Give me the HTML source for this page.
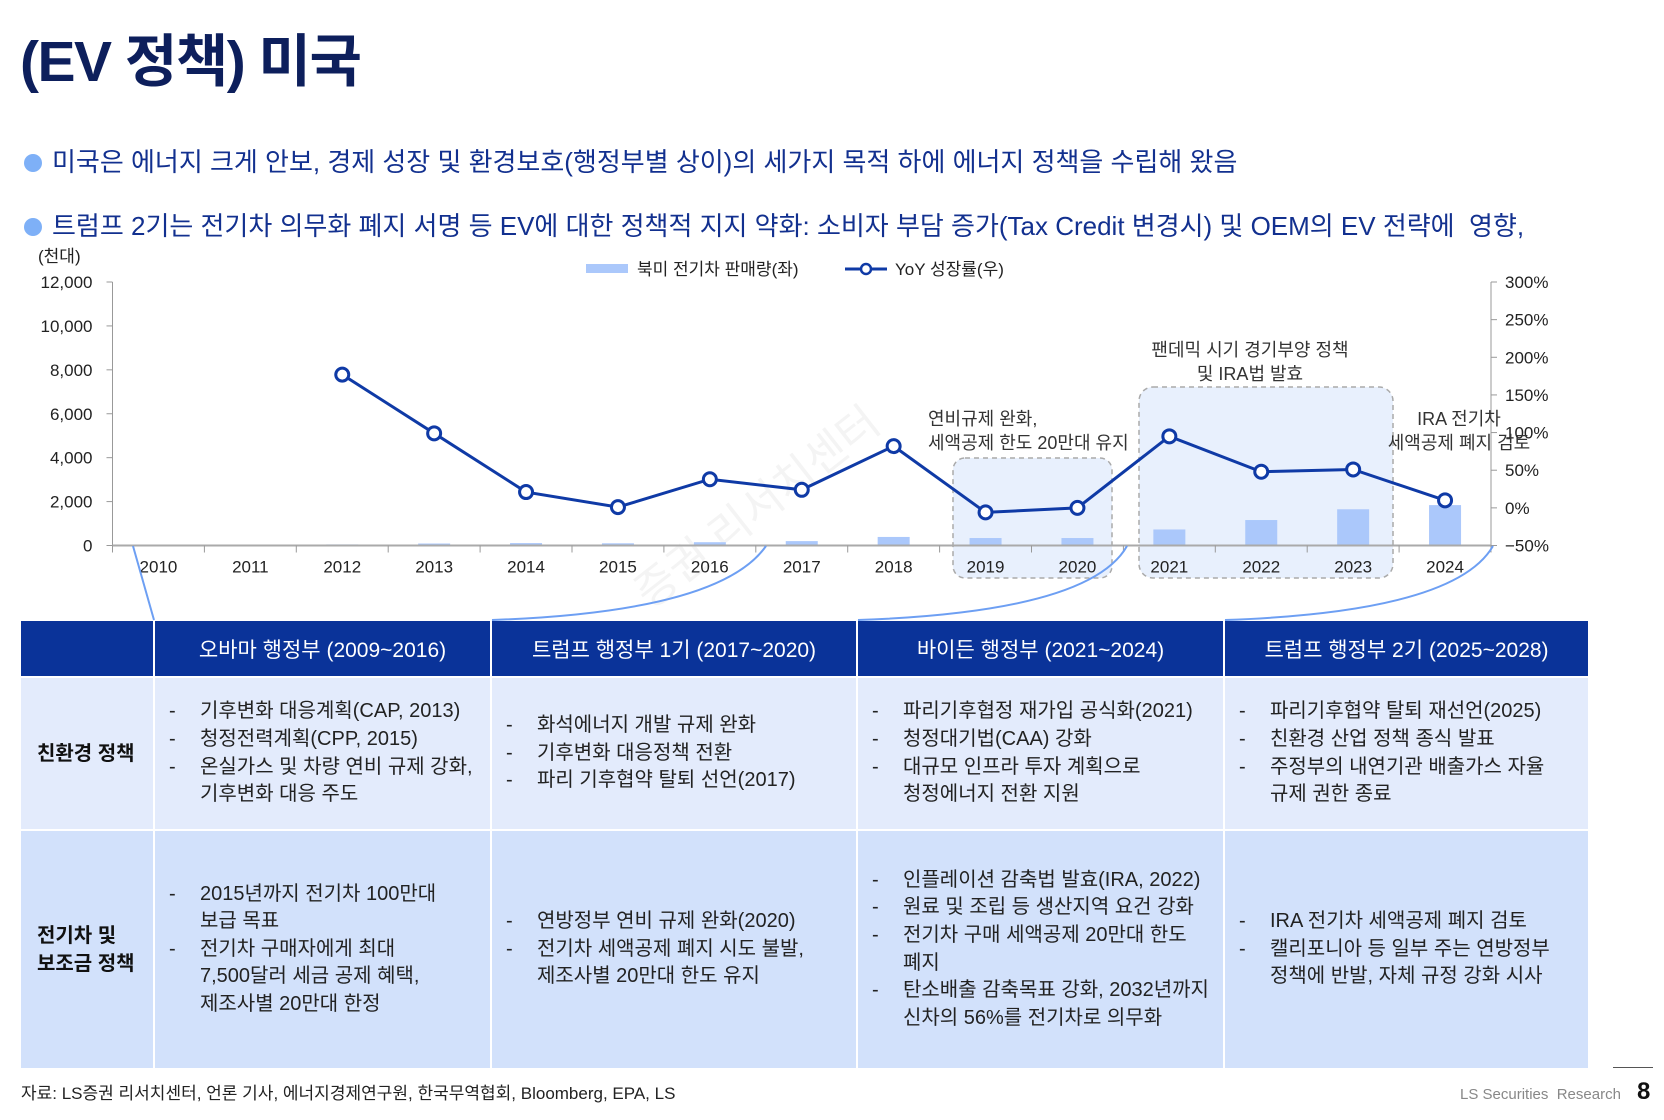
<!DOCTYPE html>
<html><head><meta charset="utf-8">
<style>
*{margin:0;padding:0;box-sizing:border-box}
body{width:1664px;height:1120px;background:#fff;position:relative;overflow:hidden;font-family:"Liberation Sans","Noto Sans CJK KR",sans-serif;color:#222}
.abs{position:absolute;white-space:nowrap}
.title{left:20px;top:16px;font-size:57px;font-weight:bold;color:#0d1f5c;letter-spacing:-1.5px}
.bullet{left:24px;font-size:26px;color:#12308f;letter-spacing:0px}
.bullet::before{content:"";display:inline-block;width:18px;height:18px;border-radius:50%;background:#7eb0f7;margin-right:10px;vertical-align:-1px}
.th{position:absolute;top:621px;height:55px;background:#0a3399;color:#fff;font-size:21px;display:flex;align-items:center;justify-content:center}
.cell{position:absolute;display:flex;flex-direction:column;justify-content:center;font-size:20px;line-height:27.6px;color:#222}
.cell div{padding-left:45px;position:relative;white-space:nowrap}
.cell div.d::before{content:"-";position:absolute;left:14px}
.lbl{position:absolute;display:flex;align-items:center;padding-left:16px;font-size:20px;font-weight:bold;line-height:28px;color:#111}
</style></head><body>
<div class="abs title">(EV 정책) 미국</div>
<div class="abs bullet" style="top:142px">미국은 에너지 크게 안보, 경제 성장 및 환경보호(행정부별 상이)의 세가지 목적 하에 에너지 정책을 수립해 왔음</div>
<div class="abs bullet" style="top:206px">트럼프 2기는 전기차 의무화 폐지 서명 등 EV에 대한 정책적 지지 약화: 소비자 부담 증가(Tax Credit 변경시) 및 OEM의 EV 전략에&nbsp; 영향,</div>

<svg id="chart" class="abs" style="left:0;top:0" width="1664" height="640"></svg>

<div class="th" style="left:21px;width:132px"></div>
<div class="th" style="left:155px;width:335px">오바마 행정부 (2009~2016)</div>
<div class="th" style="left:492px;width:364px">트럼프 행정부 1기 (2017~2020)</div>
<div class="th" style="left:858px;width:365px">바이든 행정부 (2021~2024)</div>
<div class="th" style="left:1225px;width:363px">트럼프 행정부 2기 (2025~2028)</div>

<div class="lbl" style="left:21px;top:678px;width:132px;height:151px;background:#e3ebfc">친환경 정책</div>
<div class="cell" style="left:155px;top:678px;width:335px;height:151px;background:#e3ebfc"><div class="d">기후변화 대응계획(CAP, 2013)</div><div class="d">청정전력계획(CPP, 2015)</div><div class="d">온실가스 및 차량 연비 규제 강화,</div><div>기후변화 대응 주도</div></div>
<div class="cell" style="left:492px;top:678px;width:364px;height:151px;background:#e3ebfc"><div class="d">화석에너지 개발 규제 완화</div><div class="d">기후변화 대응정책 전환</div><div class="d">파리 기후협약 탈퇴 선언(2017)</div></div>
<div class="cell" style="left:858px;top:678px;width:365px;height:151px;background:#e3ebfc"><div class="d">파리기후협정 재가입 공식화(2021)</div><div class="d">청정대기법(CAA) 강화</div><div class="d">대규모 인프라 투자 계획으로</div><div>청정에너지 전환 지원</div></div>
<div class="cell" style="left:1225px;top:678px;width:363px;height:151px;background:#e3ebfc"><div class="d">파리기후협약 탈퇴 재선언(2025)</div><div class="d">친환경 산업 정책 종식 발표</div><div class="d">주정부의 내연기관 배출가스 자율</div><div>규제 권한 종료</div></div>

<div class="lbl" style="left:21px;top:831px;width:132px;height:237px;background:#d2e1fb">전기차 및<br>보조금 정책</div>
<div class="cell" style="left:155px;top:831px;width:335px;height:237px;background:#d2e1fb"><div class="d">2015년까지 전기차 100만대</div><div>보급 목표</div><div class="d">전기차 구매자에게 최대</div><div>7,500달러 세금 공제 혜택,</div><div>제조사별 20만대 한정</div></div>
<div class="cell" style="left:492px;top:831px;width:364px;height:237px;background:#d2e1fb"><div class="d">연방정부 연비 규제 완화(2020)</div><div class="d">전기차 세액공제 폐지 시도 불발,</div><div>제조사별 20만대 한도 유지</div></div>
<div class="cell" style="left:858px;top:831px;width:365px;height:237px;background:#d2e1fb"><div class="d">인플레이션 감축법 발효(IRA, 2022)</div><div class="d">원료 및 조립 등 생산지역 요건 강화</div><div class="d">전기차 구매 세액공제 20만대 한도</div><div>폐지</div><div class="d">탄소배출 감축목표 강화, 2032년까지</div><div>신차의 56%를 전기차로 의무화</div></div>
<div class="cell" style="left:1225px;top:831px;width:363px;height:237px;background:#d2e1fb"><div class="d">IRA 전기차 세액공제 폐지 검토</div><div class="d">캘리포니아 등 일부 주는 연방정부</div><div>정책에 반발, 자체 규정 강화 시사</div></div>

<div class="abs" style="left:21px;top:1079px;font-size:17px;color:#222">자료: LS증권 리서치센터, 언론 기사, 에너지경제연구원, 한국무역협회, Bloomberg, EPA, LS</div>
<div class="abs" style="left:1460px;top:1086px;font-size:15px;color:#888">LS Securities&nbsp; Research</div>
<div class="abs" style="left:1613px;top:1067px;width:40px;height:1px;background:#555"></div>
<div class="abs" style="left:1637px;top:1078px;font-size:24px;font-weight:bold;color:#111">8</div>

<script>
const years=["2010","2011","2012","2013","2014","2015","2016","2017","2018","2019","2020","2021","2022","2023","2024"];
const sales=[5,20,50,90,110,100,150,200,390,340,340,730,1160,1650,1840];
const yoy=[null,null,177,99,21,1,38,24,82,-6,0,95,48,51,10];
const leftTicks=[0,2000,4000,6000,8000,10000,12000];
const rightTicks=[-50,0,50,100,150,200,250,300];

const NS="http://www.w3.org/2000/svg";
const svg=document.getElementById('chart');
const X0=112.5,X1=1491,Y0=545.5,Y1=282;
const bw=(X1-X0)/years.length;
const xc=i=>X0+bw*(i+0.5);
const yL=v=>Y0-(v/12000)*(Y0-Y1);
const yR=v=>Y0-((v+50)/350)*(Y0-Y1);
function mk(t,a,p){const e=document.createElementNS(NS,t);for(const k in a)e.setAttribute(k,a[k]);(p||svg).appendChild(e);return e;}
function tx(x,y,s,a){const e=mk('text',Object.assign({x:x,y:y,'font-size':17,fill:'#222','font-family':'"Liberation Sans","Noto Sans CJK KR",sans-serif'},a||{}));e.textContent=s;return e;}

let b=mk('rect',{x:953,y:458,width:159,height:120,rx:12,fill:'#e8f0fd',stroke:'#aaa','stroke-dasharray':'5,4','stroke-width':1.5});


b=mk('rect',{x:1139,y:387,width:254,height:191,rx:14,fill:'#e8f0fd',stroke:'#aaa','stroke-dasharray':'5,4','stroke-width':1.5});



let w=tx(0,0,'증권 리서치센터',{'font-size':44,fill:'#f4f4f4',transform:'translate(650,610) rotate(-38)'});



mk('line',{x1:X0,y1:Y1,x2:X0,y2:Y0,stroke:'#999'});
mk('line',{x1:X1,y1:Y1,x2:X1,y2:Y0,stroke:'#999'});
leftTicks.forEach(v=>{const y=yL(v);mk('line',{x1:X0-6,y1:y,x2:X0,y2:y,stroke:'#999'});
 const t=tx(X0-20,y+6,v.toLocaleString('en-US'),{'text-anchor':'end'});
 
 });
rightTicks.forEach(v=>{const y=yR(v);mk('line',{x1:X1,y1:y,x2:X1+6,y2:y,stroke:'#999'});
 const t=tx(X1+14,y+6,(v<0?'−':'')+Math.abs(v)+'%',{});
 
 });
tx(38,262,'(천대)',{});

sales.forEach((v,i)=>{const r=mk('rect',{x:xc(i)-16,y:yL(v),width:32,height:Y0-yL(v),fill:'#abc8fb'});
 
 });
mk('line',{x1:X0,y1:Y0,x2:X1,y2:Y0,stroke:'#aaa','stroke-width':2});
years.forEach((y,i)=>{mk('line',{x1:X0+bw*i,y1:Y0,x2:X0+bw*i,y2:Y0+7,stroke:'#999'});
 const t=tx(xc(i),Y0+27,y,{'text-anchor':'middle'});
 
 });
mk('line',{x1:X1,y1:Y0,x2:X1,y2:Y0+7,stroke:'#999'});

let d='';yoy.forEach((v,i)=>{if(v===null)return;d+=(d?'L':'M')+xc(i)+','+yR(v);});
const pl=mk('path',{d:d,fill:'none',stroke:'#0f3aa6','stroke-width':3});


yoy.forEach((v,i)=>{if(v===null)return;const c=mk('circle',{cx:xc(i),cy:yR(v),r:6.5,fill:'#fff',stroke:'#0f3aa6','stroke-width':3});
 
 });

mk('rect',{x:586,y:264,width:42,height:9,fill:'#abc8fb'});
tx(637,275,'북미 전기차 판매량(좌)',{});
mk('line',{x1:845,y1:269,x2:887,y2:269,stroke:'#0f3aa6','stroke-width':3});
mk('circle',{cx:866,cy:269,r:5,fill:'#fff',stroke:'#0f3aa6','stroke-width':2.5});
tx(895,275,'YoY 성장률(우)',{});

tx(928,425,'연비규제 완화,',{'font-size':18,fill:'#333'});
tx(928,449,'세액공제 한도 20만대 유지',{'font-size':18,fill:'#333'});
tx(1250,356,'팬데믹 시기 경기부양 정책',{'font-size':18,fill:'#333','text-anchor':'middle'});
tx(1250,380,'및 IRA법 발효',{'font-size':18,fill:'#333','text-anchor':'middle'});
tx(1459,425,'IRA 전기차',{'font-size':18,fill:'#333','text-anchor':'middle'});
tx(1459,449,'세액공제 폐지 검토',{'font-size':18,fill:'#333','text-anchor':'middle'});

const cs=[['M133,546 L154,620'],['M766,546 Q720,612 492,620'],['M1127,546 Q1090,612 858,620'],['M1493,546 Q1455,612 1225,620']];
cs.forEach((p,i)=>{const e=mk('path',{d:p[0],fill:'none',stroke:'#6d9ff3','stroke-width':2});
 
 });
</script>
</body></html>
